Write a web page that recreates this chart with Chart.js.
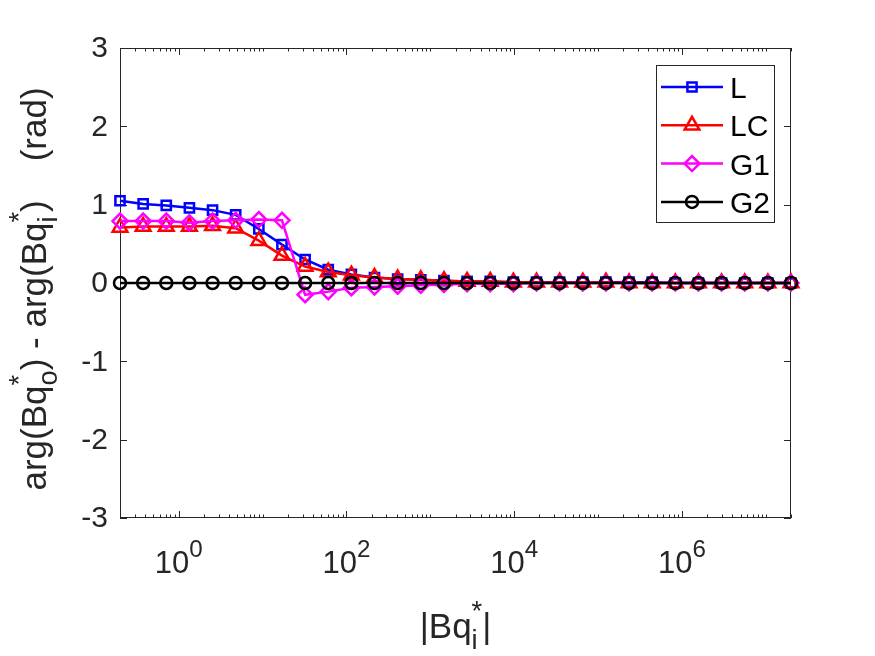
<!DOCTYPE html>
<html>
<head>
<meta charset="utf-8">
<script src="https://cdn.jsdelivr.net/npm/chart.js@4.4.1/dist/chart.umd.min.js"></script>
<style>
  html, body { margin: 0; padding: 0; background: #fff; }
  #wrap { width: 875px; height: 656px; }
</style>
</head>
<body>
<div id="wrap"><canvas id="phaseChart" width="875" height="656"></canvas></div>
<script>
// |Bq_i*| sample points (0.2 ... 2e7)
const bqValues = [0.2, 0.3775, 0.7124, 1.345, 2.538, 4.790, 9.041, 17.06, 32.21, 60.79,
  114.7, 216.5, 408.7, 771.4, 1456, 2748, 5187, 9789, 18477, 34873,
  65821, 124231, 234474, 442550, 835278, 1576520, 2975540, 5616080, 10599840, 20000000];

// phase difference (rad) for each model
const phaseL = [1.05, 1.01, 0.99, 0.96, 0.93, 0.87, 0.69, 0.49, 0.30, 0.17,
  0.11, 0.07, 0.05, 0.04, 0.03, 0.02, 0.02, 0.01, 0.01, 0.01,
  0.01, 0.01, 0.01, 0.01, 0.00, 0.00, 0.00, 0.00, 0.00, 0.00];
const phaseLC = [0.71, 0.72, 0.72, 0.72, 0.73, 0.70, 0.54, 0.35, 0.21, 0.14,
  0.10, 0.07, 0.05, 0.04, 0.03, 0.02, 0.02, 0.01, 0.01, 0.01,
  0.01, 0.01, 0.00, 0.00, 0.00, 0.00, 0.00, 0.00, 0.00, 0.00];
const phaseG1 = [0.79, 0.79, 0.79, 0.77, 0.79, 0.80, 0.81, 0.80, -0.15, -0.11,
  -0.06, -0.05, -0.04, -0.03, -0.02, -0.01, -0.01, -0.01, 0.00, 0.00,
  0.00, 0.00, 0.00, 0.00, 0.00, 0.00, 0.00, 0.00, 0.00, 0.00];
const phaseG2 = [0, 0, 0, 0, 0, 0, 0, 0, 0, 0,
  0, 0, 0, 0, 0, 0, 0, 0, 0, 0,
  0, 0, 0, 0, 0, 0, 0, 0, 0, 0];

const seriesNames = ['L', 'LC', 'G1', 'G2'];
const yTicks = [-3, -2, -1, 0, 1, 2, 3];
const xLabelExponents = [0, 2, 4, 6];
const xRange = [0.2, 2e7];
const yRange = [-3, 3];

const FONT = '"Liberation Sans", Arial, Helvetica, sans-serif';
const AXIS_COLOR = '#262626';
const font = size => size + 'px ' + FONT;

// rich text: plain strings, or {sub, sup} stacked at the same spot (MATLAB tex style)
function richWidth(ctx, parts, size) {
  let w = 0;
  parts.forEach(p => {
    if (typeof p === 'string') {
      ctx.font = font(size);
      w += ctx.measureText(p).width;
    } else {
      ctx.font = font(size * 0.78);
      w += Math.max(ctx.measureText(p.sub || '').width, ctx.measureText(p.sup || '').width);
    }
  });
  return w;
}

function drawRich(ctx, parts, x, y, size) {
  ctx.textBaseline = 'alphabetic';
  ctx.textAlign = 'left';
  parts.forEach(p => {
    if (typeof p === 'string') {
      ctx.font = font(size);
      ctx.fillText(p, x, y);
      x += ctx.measureText(p).width;
    } else {
      ctx.font = font(size * 0.78);
      if (p.sub) ctx.fillText(p.sub, x, y + size * 0.3);
      if (p.sup) ctx.fillText(p.sup, x, y - size * 0.52);
      x += Math.max(ctx.measureText(p.sub || '').width, ctx.measureText(p.sup || '').width);
    }
  });
}

const series = [
  { values: phaseL, color: '#0000ff', style: 'rect', radius: 6.5 },
  { values: phaseLC, color: '#ff0000', style: 'triangle', radius: 8.5 },
  { values: phaseG1, color: '#ff00ff', style: 'rectRot', radius: 7.5 },
  { values: phaseG2, color: '#000000', style: 'circle', radius: 6 }
];

const datasets = series.map((s, i) => ({
  label: seriesNames[i],
  data: bqValues.map((x, j) => ({ x: x, y: s.values[j] })),
  borderColor: s.color,
  backgroundColor: 'transparent',
  borderWidth: 2.5,
  pointStyle: s.style,
  pointRadius: s.radius,
  pointBorderWidth: 2.5,
  pointBorderColor: s.color,
  pointBackgroundColor: 'transparent',
  tension: 0,
  clip: false,
  order: series.length - i  // later series drawn on top
}));

const matlabAxes = {
  id: 'matlabAxes',
  beforeDatasetsDraw(chart) {
    const { ctx, chartArea: a, scales: { x, y } } = chart;
    ctx.save();
    ctx.strokeStyle = AXIS_COLOR;
    ctx.lineWidth = 1;
    ctx.beginPath();
    yTicks.forEach(v => {
      const py = Math.round(y.getPixelForValue(v)) + 0.5;
      ctx.moveTo(a.left, py); ctx.lineTo(a.left + 7, py);
      ctx.moveTo(a.right, py); ctx.lineTo(a.right - 7, py);
    });
    for (let k = -1; k <= 7; k++) {
      for (let m = 1; m <= 9; m++) {
        const v = m * Math.pow(10, k);
        if (v < xRange[0] || v > xRange[1]) continue;
        const len = (m === 1 && xLabelExponents.includes(k)) ? 7 : 3.5;
        const px = Math.round(x.getPixelForValue(v)) + 0.5;
        ctx.moveTo(px, a.bottom); ctx.lineTo(px, a.bottom - len);
        ctx.moveTo(px, a.top); ctx.lineTo(px, a.top + len);
      }
    }
    ctx.stroke();
    ctx.strokeRect(a.left + 0.5, a.top + 0.5, a.width - 1, a.height - 1);
    ctx.restore();
  },
  afterDraw(chart) {
    const { ctx, chartArea: a, scales: { x, y } } = chart;
    ctx.save();
    ctx.fillStyle = AXIS_COLOR;

    // y tick labels
    ctx.font = font(30);
    ctx.textAlign = 'right';
    ctx.textBaseline = 'middle';
    yTicks.forEach(v => ctx.fillText(String(v), a.left - 12, y.getPixelForValue(v) + 1));

    // x tick labels 10^n
    xLabelExponents.forEach(e => {
      const parts = ['10', { sup: String(e) }];
      const w = richWidth(ctx, parts, 31);
      const px = x.getPixelForValue(Math.pow(10, e));
      ctx.font = font(31);
      const wBase = ctx.measureText('10').width;
      ctx.textAlign = 'left';
      ctx.textBaseline = 'alphabetic';
      ctx.fillText('10', px - w / 2, a.bottom + 55);
      ctx.font = font(31 * 0.78);
      ctx.fillText(String(e), px - w / 2 + wBase, a.bottom + 55 - 16);
    });

    // x axis label
    const xParts = ['|Bq', { sub: 'i', sup: '*' }, '|'];
    const xw = richWidth(ctx, xParts, 35);
    drawRich(ctx, xParts, (a.left + a.right) / 2 - xw / 2, 638, 35);

    // y axis label
    const yParts = ['arg(Bq', { sub: 'o', sup: '*' }, ') - arg(Bq', { sub: 'i', sup: '*' }, ')    (rad)'];
    const yw = richWidth(ctx, yParts, 35);
    ctx.save();
    ctx.translate(46, 289);
    ctx.rotate(-Math.PI / 2);
    drawRich(ctx, yParts, -yw / 2, 0, 35);
    ctx.restore();

    // legend box
    const box = { left: 656, top: 65, width: 118, height: 157 };
    ctx.fillStyle = '#ffffff';
    ctx.fillRect(box.left, box.top, box.width, box.height);
    ctx.strokeStyle = AXIS_COLOR;
    ctx.lineWidth = 1;
    ctx.strokeRect(box.left + 0.5, box.top + 0.5, box.width, box.height);
    chart.data.datasets.forEach((ds, i) => {
      const ry = box.top + 22 + i * 38.3;
      ctx.strokeStyle = ds.borderColor;
      ctx.lineWidth = 2.5;
      ctx.beginPath();
      ctx.moveTo(box.left + 5, ry);
      ctx.lineTo(box.left + 67, ry);
      ctx.stroke();
      ctx.fillStyle = 'rgba(0,0,0,0)';
      Chart.helpers.drawPoint(ctx, {
        pointStyle: ds.pointStyle,
        radius: ds.pointRadius,
        rotation: 0,
        borderWidth: 2.5
      }, box.left + 36, ry);
      ctx.fillStyle = '#000000';
      ctx.font = font(30);
      ctx.textAlign = 'left';
      ctx.textBaseline = 'alphabetic';
      ctx.fillText(ds.label, box.left + 74, ry + 11);
    });
    ctx.restore();
  }
};

new Chart(document.getElementById('phaseChart'), {
  type: 'line',
  data: { datasets: datasets },
  options: {
    responsive: false,
    animation: false,
    devicePixelRatio: 1,
    layout: { padding: { top: 48, right: 84, left: 0, bottom: 0 } },
    plugins: { legend: { display: false }, tooltip: { enabled: false } },
    scales: {
      x: {
        type: 'logarithmic',
        min: xRange[0],
        max: xRange[1],
        grid: { display: false },
        border: { display: false },
        ticks: { display: false },
        afterFit: s => { s.height = 138; }
      },
      y: {
        type: 'linear',
        min: yRange[0],
        max: yRange[1],
        grid: { display: false },
        border: { display: false },
        ticks: { display: false },
        afterFit: s => { s.width = 120; }
      }
    }
  },
  plugins: [matlabAxes]
});
</script>
</body>
</html>
